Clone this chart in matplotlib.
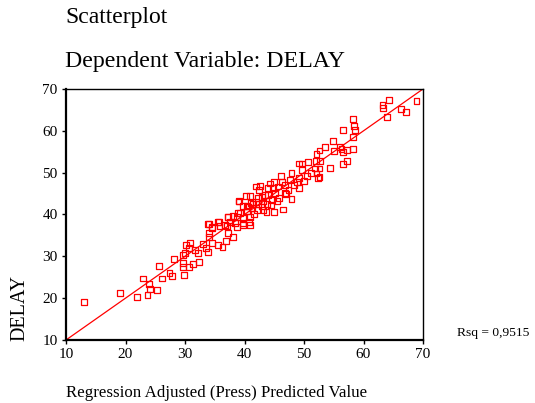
import numpy as np
import matplotlib
matplotlib.use("Agg")
import matplotlib.pyplot as plt

# predicted value (x) and DELAY (y)
pred = [68.9, 64.3, 63.2, 63.3, 66.3, 67.1, 63.9, 58.3, 58.4, 58.5, 56.5, 58.3,
        56.1, 56.5, 57.3, 58.3, 56.5, 57.3, 54.8, 53.6, 52.6, 52.1, 55.0, 56.3,
        50.7, 49.6, 49.2, 52.0, 52.7, 54.4, 51.8, 52.6, 52.1, 52.6, 52.4, 49.6,
        47.9, 46.1, 49.2, 50.0, 47.6, 48.8, 46.3, 45.0, 44.3, 46.8, 45.7, 42.6,
        41.9, 42.5, 44.0, 44.8, 47.4, 49.2, 44.0, 45.1, 46.8, 47.9, 40.9, 40.3,
        39.1, 42.3, 43.4, 43.2, 44.6, 45.5, 39.7, 40.4, 41.5, 42.3, 42.9, 46.4,
        45.0, 43.7, 43.2, 42.1, 41.2, 40.4, 39.2, 38.1, 37.3, 38.7, 39.8, 40.9,
        40.8, 40.9, 39.7, 38.4, 37.6, 36.7, 35.6, 33.9, 34.5, 39.0, 40.6, 39.8,
        38.7, 37.3, 37.0, 35.8, 35.7, 34.0, 34.6, 34.1, 34.1, 37.3, 38.0, 36.9,
        36.3, 35.6, 34.6, 33.8, 33.5, 33.0, 32.2, 31.7, 30.1, 30.9, 30.6, 30.0,
        32.4, 31.4, 29.8, 30.6, 29.6, 29.6, 29.7, 28.2, 27.8, 27.4, 25.7, 26.1,
        23.7, 21.9, 25.3, 24.1, 24.0, 22.9, 19.1, 13.0,
        43.8, 42.0, 41.0, 44.5, 45.8, 48.3, 50.5, 51.2, 47.0, 43.0, 41.6, 38.9]
delay = [67.1, 67.4, 66.1, 65.5, 65.2, 64.4, 63.3, 62.8, 61.2, 60.2, 60.2, 58.6,
         56.1, 54.9, 55.4, 55.7, 52.1, 52.8, 57.6, 56.2, 55.3, 54.4, 55.2, 55.6,
         52.6, 52.2, 52.2, 52.8, 52.8, 51.2, 51.0, 51.0, 49.8, 49.0, 48.7, 50.6,
         50.0, 49.3, 48.7, 48.0, 48.2, 47.8, 47.8, 47.8, 47.4, 47.1, 46.7, 46.8,
         46.7, 45.9, 46.3, 46.3, 45.9, 46.3, 44.7, 45.1, 45.1, 43.7, 44.5, 44.5,
         43.3, 43.9, 44.7, 43.1, 43.5, 43.3, 42.0, 42.0, 42.5, 42.5, 41.9, 41.2,
         40.5, 40.5, 41.1, 41.1, 41.5, 40.9, 40.3, 39.6, 39.5, 39.3, 39.1, 39.5,
         38.3, 37.5, 37.5, 37.9, 38.3, 37.5, 38.3, 37.7, 37.1, 43.1, 41.9, 37.9,
         37.1, 39.3, 37.3, 37.3, 38.3, 37.7, 36.7, 34.6, 35.5, 35.5, 34.6, 33.7,
         32.3, 32.7, 33.1, 31.1, 31.9, 33.0, 30.9, 31.5, 32.7, 33.1, 31.9, 30.9,
         28.7, 28.2, 25.5, 27.5, 27.4, 28.5, 30.3, 29.3, 25.3, 26.1, 27.7, 24.7,
         20.8, 20.3, 21.9, 22.1, 23.4, 24.7, 21.3, 19.0,
         42.6, 43.0, 42.8, 42.2, 44.0, 47.0, 49.2, 50.0, 44.8, 44.2, 40.2, 40.4]

fit_slope = 1.0
fit_intercept = 0.0
rsq_text = "Rsq = 0,9515"
ticks = [10, 20, 30, 40, 50, 60, 70]

plt.rcParams["font.family"] = ["Liberation Serif", "DejaVu Serif"]

fig = plt.figure(figsize=(5.35, 4.03), dpi=100)
ax = fig.add_axes([66 / 535, 1 - 340 / 403, (423 - 66) / 535, (340 - 89) / 403])

ax.scatter(pred, delay, marker="s", s=18, facecolors="none", edgecolors="red",
           linewidths=0.9, zorder=3)

xs = np.array([10, 70])
ax.plot(xs, fit_intercept + fit_slope * xs, color="red", lw=0.9, zorder=2)

ax.set_xlim(10, 70)
ax.set_ylim(10, 70)
ax.set_xticks(ticks)
ax.set_yticks(ticks)
ax.tick_params(direction="out", length=3, width=1, labelsize=11, pad=3, colors="black")
for side in ["left", "bottom"]:
    ax.spines[side].set_linewidth(1.6)
for side in ["top", "right"]:
    ax.spines[side].set_linewidth(1.0)

fig.text(65 / 535, 1 - 18 / 403, "Scatterplot", fontsize=17, va="center", ha="left")
fig.text(65 / 535, 1 - 62 / 403, "Dependent Variable: DELAY", fontsize=17.2, va="center", ha="left")
fig.text(20 / 535, 1 - 308 / 403, "DELAY", fontsize=14.5, rotation=90, va="center", ha="center")
fig.text(66 / 535, 1 - 393 / 403, "Regression Adjusted (Press) Predicted Value",
         fontsize=12.2, va="center", ha="left")
fig.text(457 / 535, 1 - 333 / 403, rsq_text, fontsize=9.7, va="center", ha="left")

fig.savefig("out.png", dpi=100)
